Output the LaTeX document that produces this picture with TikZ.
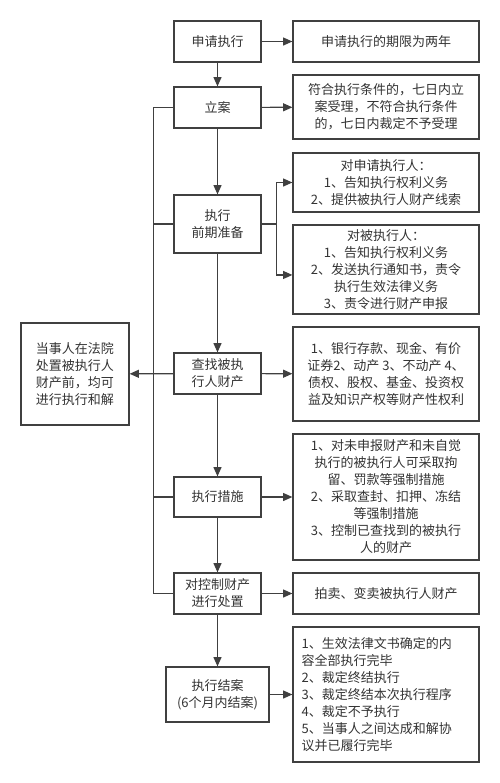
\documentclass[tikz,border=0pt]{standalone}
\usepackage{fontspec}
\setmainfont{Noto Sans CJK SC}
\usetikzlibrary{arrows.meta}

\tikzset{every picture/.style={line width=0.9pt}}
\tikzset{
  box/.style={draw={rgb, 255:red, 64; green, 64; blue, 64 }, text={rgb, 255:red, 51; green, 51; blue, 51 }, inner sep=0pt, align=center, minimum width=65.25pt, minimum height=30.75pt, font=\fontsize{9.75pt}{12.75pt}\selectfont},
  note/.style={box, minimum width=139.5pt},
  flow/.style={draw={rgb, 255:red, 64; green, 64; blue, 64 }, -{Triangle[length=7pt,width=6pt]}},
  bus/.style={draw={rgb, 255:red, 64; green, 64; blue, 64 }},
}

\begin{document}
\begin{tikzpicture}[x=0.75pt,y=0.75pt,yscale=-1,xscale=1]
        \useasboundingbox (0,0) rectangle (500,783); %set diagram to the size of the reference
        %Main column
        \node (apply) at (217.5,41.5) [box] {申请执行};
        \node (file) at (217.5,107.5) [box] {立案};
        \node (prep) at (217.5,224) [box, minimum height=43.5pt] {执行\\前期准备};
        \node (find) at (217.5,373.5) [box] {查找被执\\行人财产};
        \node (measure) at (217.5,497) [box, minimum height=30pt] {执行措施};
        \node (dispose) at (217.5,593.5) [box] {对控制财产\\进行处置};
        \node (close) at (217.5,694.5) [box, minimum width=77.25pt, minimum height=41.25pt] {执行结案\\(6个月内结案)};
        %Left box
        \node (settle) at (75,374) [box, minimum width=81pt, minimum height=76.5pt] {当事人在法院\\处置被执行人\\财产前，均可\\进行执行和解};
        %Right column
        \node (term) at (386,41.5) [note] {申请执行的期限为两年};
        \node (accept) at (386,107) [note, minimum height=48pt] {符合执行条件的，七日内立\\案受理，不符合执行条件\\的，七日内裁定不予受理};
        \node (applicant) at (386,182.5) [note, minimum height=44.25pt] {对申请执行人：\\1、告知执行权利义务\\2、提供被执行人财产线索};
        \node (debtor) at (386,269.5) [note, minimum height=66.75pt] {对被执行人：\\1、告知执行权利义务\\2、发送执行通知书，责令\\执行生效法律义务\\3、责令进行财产申报};
        \node (assets) at (386,374) [note, minimum height=70.5pt] {1、银行存款、现金、有价\\证券2、动产 3、不动产 4、\\债权、股权、基金、投资权\\益及知识产权等财产性权利};
        \node (force) at (386,497) [note, minimum height=94.5pt] {1、对未申报财产和未自觉\\执行的被执行人可采取拘\\留、罚款等强制措施\\2、采取查封、扣押、冻结\\等强制措施\\3、控制已查找到的被执行\\人的财产};
        \node (sale) at (386,593.5) [note] {拍卖、变卖被执行人财产};
        \node (ends) at (386,694.5) [note, minimum height=101.25pt, text width=126.5pt, align=left] {1、生效法律文书确定的内\\容全部执行完毕\\2、裁定终结执行\\3、裁定终结本次执行程序\\4、裁定不予执行\\5、当事人之间达成和解协\\议并已履行完毕};

        %Straight Lines down the column
        \draw [flow] (apply) -- (file);
        \draw [flow] (file) -- (prep);
        \draw [flow] (prep) -- (find);
        \draw [flow] (find) -- (measure);
        \draw [flow] (measure) -- (dispose);
        \draw [flow] (dispose) -- (close);
        %Straight Lines to the right
        \draw [flow] (apply) -- (term);
        \draw [flow] (file) -- (accept);
        \draw [flow] (prep.east) -- ++(15,0) |- (applicant.west);
        \draw [flow] (prep.east) -- ++(15,0) |- ([yshift=4.1pt]debtor.west);
        \draw [flow] (find) -- (assets);
        \draw [flow] (measure) -- (force);
        \draw [flow] (dispose) -- (sale);
        \draw [flow] (close) -- (ends);
        %Left bus
        \draw [bus] (file.west) -- ++(-20,0) |- (dispose.west);
        \draw [bus] (prep.west) -- ++(-20,0);
        \draw [bus] (measure.west) -- ++(-20,0);
        \draw [flow] (find) -- (settle);
\end{tikzpicture}
\end{document}
